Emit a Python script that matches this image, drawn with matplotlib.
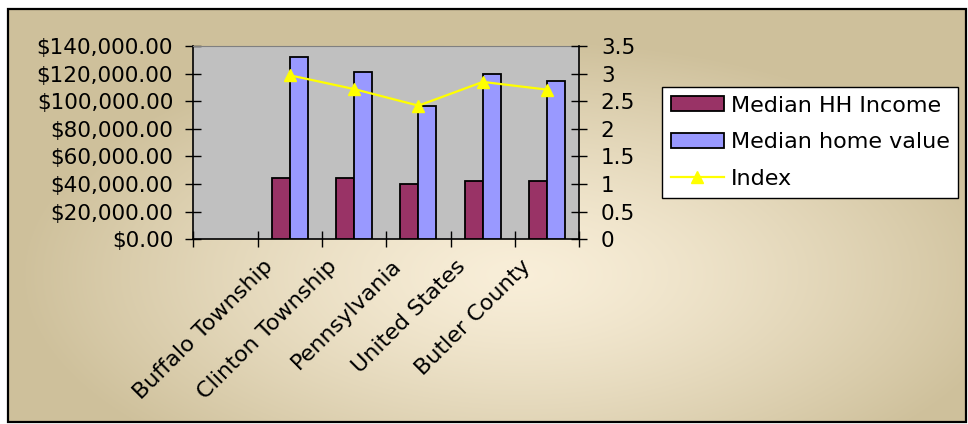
import numpy as np
import matplotlib
matplotlib.use('Agg')
from matplotlib import pyplot as plt
from matplotlib.patches import Rectangle, Patch
from matplotlib.lines import Line2D
from matplotlib.ticker import FuncFormatter, MultipleLocator

plt.rcParams['font.family'] = ['DejaVu Sans']
FS = 15.5

# first category slot is empty in the source sheet
categories = ['', 'Buffalo Township', 'Clinton Township', 'Pennsylvania', 'United States', 'Butler County']
hh_income = [np.nan, 44500, 44500, 40100, 42000, 42300]
home_value = [np.nan, 132200, 121000, 96800, 119600, 114500]
index_vals = [np.nan, 2.97, 2.72, 2.42, 2.85, 2.71]

W, H = 968, 424
fig = plt.figure(figsize=(W / 100, H / 100), dpi=100)
fig.patch.set_facecolor('white')

# parchment style gradient behind the chart
bg = fig.add_axes([0, 0, 1, 1])
bg.set_axis_off()
bg.set_xlim(0, W)
bg.set_ylim(H, 0)
x0, x1, y0, y1 = 7.5, 966, 9, 422
xx, yy = np.meshgrid(np.linspace(x0, x1, 400), np.linspace(y0, y1, 200))
d = np.sqrt(((xx - 520) / 500) ** 2 + ((yy - 275) / 235) ** 2)
f = np.clip(d, 0, 1) ** 1.3
light = np.array([0.975, 0.935, 0.85])
dark = np.array([0.81, 0.755, 0.61])
img = light[None, None, :] * (1 - f[..., None]) + dark[None, None, :] * f[..., None]
bg.imshow(img, extent=(x0, x1, y1, y0), aspect='auto', interpolation='bilinear')
bg.add_patch(Rectangle((x0, y0), x1 - x0, y1 - y0, fill=False, edgecolor='black', linewidth=1.6))

# plot area
ax = fig.add_axes([193.3 / W, 1 - 239.3 / H, (579.3 - 193.3) / W, (239.3 - 46) / H])
ax.set_facecolor('#C0C0C0')
x = np.arange(len(categories))
bw = 0.28
ax.bar(x - bw / 2, hh_income, bw, color='#993366', edgecolor='black', linewidth=1.3, zorder=3)
ax.bar(x + bw / 2, home_value, bw, color='#9999FF', edgecolor='black', linewidth=1.3, zorder=3)
ax.set_xlim(-0.5, len(categories) - 0.5)
ax.set_ylim(0, 140000)
ax.yaxis.set_major_locator(MultipleLocator(20000))
ax.yaxis.set_major_formatter(FuncFormatter(lambda v, p: f'${v:,.2f}'))
ax.set_xticks(np.arange(-0.5, len(categories), 1.0))
ax.set_xticklabels([])
ax.tick_params(axis='both', direction='inout', length=11, width=1, labelsize=FS)
ax.tick_params(axis='y', pad=9)
for s in ['left', 'bottom']:
    ax.spines[s].set_color('black')
    ax.spines[s].set_linewidth(1.2)
ax.spines['top'].set_color('#808080')
ax.spines['right'].set_visible(False)

tr = ax.get_xaxis_transform()
for i, lab in enumerate(categories):
    if lab:
        ax.text(i - 0.42, -0.085, lab, transform=tr, rotation=45, rotation_mode='anchor',
                ha='right', va='top', fontsize=16)

ax2 = ax.twinx()
ax2.plot(x, index_vals, color='#FFFF00', linewidth=1.6, marker='^', markersize=9,
         markerfacecolor='#FFFF00', markeredgecolor='#FFFF00', zorder=4)
ax2.set_ylim(0, 3.5)
ax2.yaxis.set_major_locator(MultipleLocator(0.5))
ax2.yaxis.set_major_formatter(FuncFormatter(lambda v, p: f'{v:g}'))
ax2.tick_params(axis='y', direction='inout', length=11, width=1, labelsize=FS, pad=10)
ax2.spines['right'].set_color('black')
ax2.spines['right'].set_linewidth(1.2)
for s in ['left', 'top', 'bottom']:
    ax2.spines[s].set_visible(False)

handles = [
    Patch(facecolor='#993366', edgecolor='black', linewidth=1.3),
    Patch(facecolor='#9999FF', edgecolor='black', linewidth=1.3),
    Line2D([], [], color='#FFFF00', linewidth=1.6, marker='^', markersize=9),
]
leg = fig.legend(handles, ['Median HH Income', 'Median home value', 'Index'],
                 loc='upper left', bbox_to_anchor=(661.7 / W, 1 - 86.7 / H),
                 borderaxespad=0, fontsize=16, fancybox=False, framealpha=1,
                 edgecolor='black', handlelength=2.4, handleheight=0.65,
                 handletextpad=0.3, labelspacing=0.75, borderpad=0.4, numpoints=1)
leg.get_frame().set_linewidth(1.0)

fig.savefig('out.png', dpi=100)
